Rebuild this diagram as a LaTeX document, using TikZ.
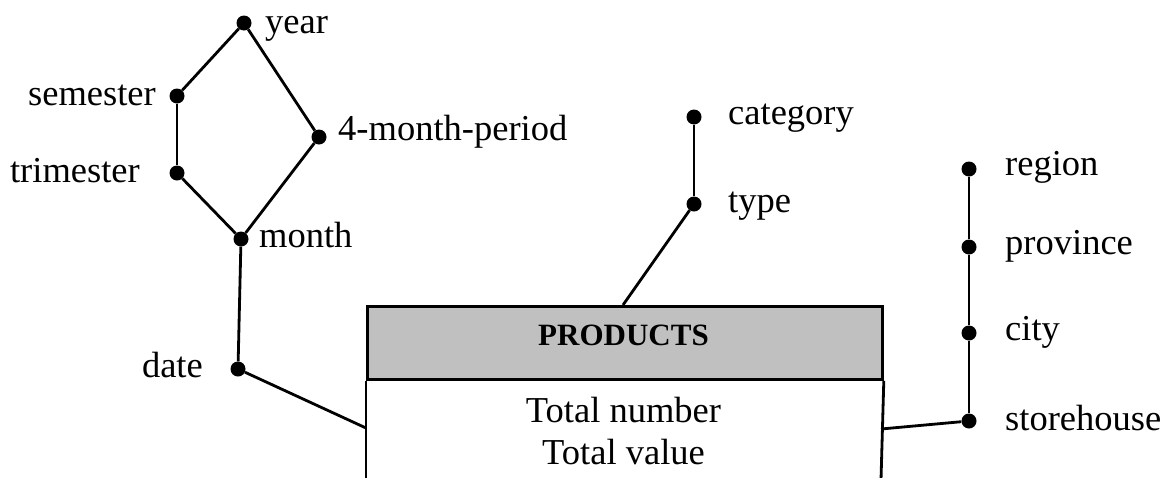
\documentclass[tikz,border=0pt]{standalone}
\usepackage{fontspec}
\setmainfont{Liberation Serif}
\begin{document}
\begin{tikzpicture}[x=1pt,y=-1pt,
  dot/.style={circle,fill=black,inner sep=0pt,minimum size=15pt},
  lbl/.style={font=\fontsize{36.5}{40}\selectfont,inner sep=0pt},
  conn/.style={line width=2.8pt},
  boxline/.style={line width=2.8pt}]
\useasboundingbox (0,0) rectangle (1171,477);
% dots
\node[dot] (year) at (244,23) {};
\node[dot] (sem) at (177,96) {};
\node[dot] (four) at (319,137) {};
\node[dot] (tri) at (177,173) {};
\node[dot] (month) at (241,239) {};
\node[dot] (date) at (238,369) {};
\node[dot] (cat) at (694,117) {};
\node[dot] (type) at (694,204) {};
\node[dot] (region) at (969,169) {};
\node[dot] (prov) at (969,247) {};
\node[dot] (city) at (969,333) {};
\node[dot] (store) at (969,421) {};
% labels
\node[lbl,anchor=base west] (lyear) at (265,33) {year};
\node[lbl,anchor=base east] (lsem) at (156,105) {semester};
\node[lbl,anchor=base west] (lfour) at (338,140) {4-month-period};
\node[lbl,anchor=base east] (ltri) at (140,182) {trimester};
\node[lbl,anchor=base west] (lmonth) at (259,247) {month};
\node[lbl,anchor=base east] (ldate) at (203,377) {date};
\node[lbl,anchor=base west] (lcat) at (728,124) {category};
\node[lbl,anchor=base west] (ltype) at (728,212) {type};
\node[lbl,anchor=base west] (lregion) at (1005,175) {region};
\node[lbl,anchor=base west] (lprov) at (1005,254) {province};
\node[lbl,anchor=base west] (lcity) at (1005,340) {city};
\node[lbl,anchor=base west] (lstore) at (1005,430) {storehouse};
% box
\node[draw,boxline,fill={rgb,255:red,192;green,192;blue,192},minimum width=515pt,minimum height=73pt,inner sep=0pt,anchor=north west] (hdr) at (366,305) {};
\node[font=\fontsize{31}{34}\selectfont\bfseries,anchor=base,inner sep=0pt] (title) at (623.5,345) {PRODUCTS};
\node[lbl,anchor=base] (tn) at (623.5,422) {Total number};
\node[lbl,anchor=base] (tv) at (623.5,464) {Total value};
\coordinate (bl) at (366,480);
\coordinate (br) at (881,480);
\draw[boxline] (hdr.south west) -- (bl);
\draw[boxline] (hdr.south east) -- (br);
\coordinate (ptop) at (623,305);
\coordinate (pleft) at (366,428);
\coordinate (pright) at (881,429);
% connectors
\draw[conn] (year) -- (sem);
\draw[conn] (year) -- (four);
\draw[conn] (sem) -- (tri);
\draw[conn] (tri) -- (month);
\draw[conn] (four) -- (month);
\draw[conn] (month) -- (date);
\draw[conn] (date) -- (pleft);
\draw[conn] (cat) -- (type);
\draw[conn] (type) -- (ptop);
\draw[conn] (region) -- (prov);
\draw[conn] (prov) -- (city);
\draw[conn] (city) -- (store);
\draw[conn] (store) -- (pright);
\end{tikzpicture}
\end{document}
